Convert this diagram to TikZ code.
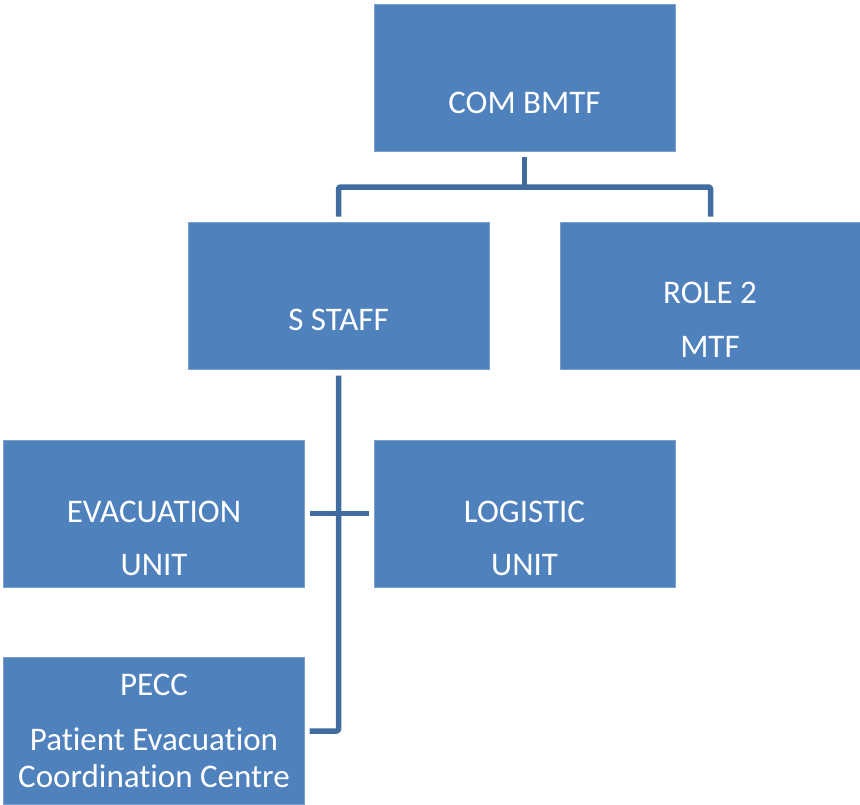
\documentclass[tikz,border=0pt]{standalone}
\usepackage{fontspec}
\setmainfont[Ligatures={NoCommon,NoContextual}]{Carlito}
\definecolor{boxblue}{HTML}{4F81BD}
\definecolor{boxedge}{HTML}{7A9FCE}
\definecolor{linkblue}{HTML}{416C9F}
\newcommand{\nolig}{\kern0pt{}}
\begin{document}
\begin{tikzpicture}[x=1pt,y=-1pt,
  box/.style={rectangle, fill=boxblue, draw=boxedge, line width=0.6pt,
    inner sep=0pt, outer sep=0pt, minimum width=301pt, minimum height=147pt},
  txt/.style={anchor=base, inner sep=0pt, text=white,
    font=\fontsize{33}{37}\selectfont},
  conn/.style={draw=linkblue, line width=5.5pt, line join=round, rounded corners=2pt}]
\useasboundingbox (0,0) rectangle (860,804);

% boxes
\node[box] (com)   at (524.5,78)   {};
\node[box] (staff) at (338.5,296)  {};
\node[box] (role)  at (710.5,296)  {};
\node[box] (evac)  at (154,513.5)  {};
\node[box] (logi)  at (524.5,513.5){};
\node[box] (pecc)  at (154,731)    {};

% texts
\node[txt] (tcom)   at (524.5,113) {COM BMTF};
\node[txt] (tstaff) at (338.5,330) {S STAFF};
\node[txt] (trole1) at (710,303)   {ROLE 2};
\node[txt] (trole2) at (710,357)   {MTF};
\node[txt] (tevac1) at (154,522)   {EVACUATION};
\node[txt] (tevac2) at (154,575)   {UNIT};
\node[txt] (tlogi1) at (524.5,522) {LOGISTIC};
\node[txt] (tlogi2) at (524.5,575) {UNIT};
\node[txt] (tpecc1) at (154,695)   {PECC};
\node[txt] (tpecc2) at (154,750)   {Pat\nolig ient Evacuat\nolig ion};
\node[txt] (tpecc3) at (154,787)   {Coordinat\nolig ion Centre};

% connectors
\coordinate (hub) at (524.5,187);
\draw[conn, shorten <=5pt] (com.south) -- (hub);
\draw[conn, shorten <=6pt, shorten >=6pt] (staff.north) |- (hub) -| (role.north);
\draw[conn, shorten <=6pt, shorten >=5pt] (staff.south) |- (pecc.east);
\draw[conn, rounded corners=0pt, shorten <=5pt, shorten >=5pt] (evac.east) -- (logi.west);
\end{tikzpicture}
\end{document}
